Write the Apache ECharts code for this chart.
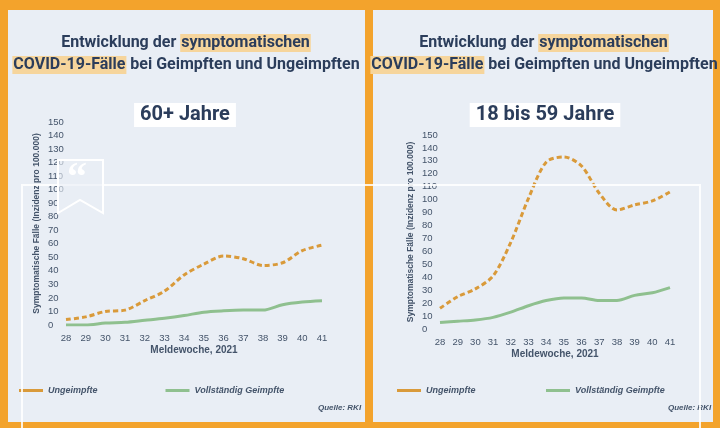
<!DOCTYPE html>
<html>
<head>
<meta charset="utf-8">
<script src="https://cdn.jsdelivr.net/npm/echarts@6/dist/echarts.min.js"></script>
<style>
  html, body { margin: 0; height: 100%; background: #f3a32c; }
  #chart { width: 720px; height: 428px; }
</style>
</head>
<body>
<div id="chart"></div>
<script>
var weeks = ['28','29','30','31','32','33','34','35','36','37','38','39','40','41'];
// 60+ Jahre
var oldUnvacc = [4, 6, 10, 11, 18, 25, 37, 45, 51, 49, 44, 46, 55, 59];
var oldVacc   = [0, 0, 1.5, 2, 3.5, 5, 7, 9.5, 10.5, 11, 11, 15, 17, 18];
// 18 bis 59 Jahre
var youngUnvacc = [16, 25, 31, 41, 67, 101, 129, 133, 126, 105, 92, 96, 99, 106];
var youngVacc   = [5, 6, 7, 9, 13, 18, 22, 24, 24, 22, 22, 26, 28, 32];

var navy = '#2b3d5b';
var txt = '#44546a';
var orange = '#d99a3a';
var green = '#8fc08f';

function titleText(cx) {
  return {
    type: 'text', z: 10,
    style: {
      x: cx, y: 32,
      text: 'Entwicklung der {h|symptomatischen}\n{h|COVID-19-Fälle} bei Geimpften und Ungeimpften',
      font: 'bold 16px Roboto, sans-serif', fill: navy, align: 'center',
      lineHeight: 22,
      rich: { h: { backgroundColor: '#f6d59c', fontWeight: 'bold', fontSize: 16, fontFamily: 'Roboto', fill: navy, padding: [1, 1] } }
    }
  };
}
function subTitle(cx, label) {
  return {
    type: 'text', z: 10,
    style: { x: cx, y: 103, align: 'center', text: label, font: 'bold 20px Roboto, sans-serif', fill: navy, backgroundColor: '#ffffff', padding: [2, 6] }
  };
}

var xAxisBase = {
  type: 'category', data: weeks, boundaryGap: false,
  name: 'Meldewoche, 2021', nameLocation: 'middle', nameGap: 20,
  nameTextStyle: { color: txt, fontSize: 10, fontWeight: 'bold' },
  axisLine: { show: false }, axisTick: { show: false },
  axisLabel: { color: txt, fontSize: 9.5 }
};
var yAxisBase = {
  type: 'value', min: 0, max: 150, interval: 10,
  name: 'Symptomatische Fälle (Inzidenz pro 100.000)', nameLocation: 'middle', nameGap: 25,
  nameTextStyle: { color: txt, fontSize: 8.5, fontWeight: 'bold' },
  splitLine: { show: false }, axisLine: { show: false }, axisTick: { show: false },
  axisLabel: { color: txt, fontSize: 9.5, align: 'left', margin: 18 }
};
function line(name, data, idx, dashed, color) {
  return {
    name: name, type: 'line', data: data, xAxisIndex: idx, yAxisIndex: idx,
    smooth: 0.3, symbol: 'none',
    lineStyle: { color: color, width: 3, type: dashed ? [5, 3] : 'solid' },
    itemStyle: { color: color }
  };
}
function legend(left, names) {
  return { left: left, top: 381, itemGap: 68, itemWidth: 24, itemHeight: 3, icon: 'rect',
    textStyle: { color: txt, fontSize: 9, fontStyle: 'italic', fontWeight: 'bold' },
    data: names };
}

var chart = echarts.init(document.getElementById('chart'));
chart.setOption({
  animation: false,
  graphic: [
    { type: 'rect', shape: { x: 8, y: 10, width: 357, height: 412 }, style: { fill: '#e9eef5' } },
    { type: 'rect', shape: { x: 373, y: 10, width: 340, height: 412 }, style: { fill: '#e9eef5' } },
    titleText(186), titleText(544),
    subTitle(185, '60+ Jahre'), subTitle(545, '18 bis 59 Jahre'),
    { type: 'rect', z: 20, shape: { x: 22, y: 185, width: 678, height: 260 }, style: { fill: 'none', stroke: 'rgba(255,255,255,0.85)', lineWidth: 2 } },
    { type: 'polygon', z: 21, shape: { points: [[58,160],[103,160],[103,213],[80,200],[58,213]] }, style: { fill: 'rgba(233,238,245,0.6)', stroke: '#ffffff', lineWidth: 2 } },
    { type: 'text', z: 22, left: 67, top: 160, style: { text: '\u201C', font: 'bold 40px serif', fill: '#ffffff' } },
    { type: 'text', left: 318, top: 404, style: { text: 'Quelle: RKI', font: 'bold italic 8px sans-serif', fill: txt } },
    { type: 'text', left: 668, top: 404, style: { text: 'Quelle: RKI', font: 'bold italic 8px sans-serif', fill: txt } }
  ],
  grid: [
    { left: 66, right: 398, top: 122, bottom: 103 },
    { left: 440, right: 50, top: 135, bottom: 99 }
  ],
  xAxis: [Object.assign({ gridIndex: 0 }, xAxisBase), Object.assign({ gridIndex: 1 }, xAxisBase)],
  yAxis: [Object.assign({ gridIndex: 0 }, yAxisBase), Object.assign({ gridIndex: 1 }, yAxisBase)],
  legend: [
    legend(14, ['Ungeimpfte', 'Vollständig Geimpfte']),
    legend(392, ['Ungeimpfte ', 'Vollständig Geimpfte '])
  ],
  series: [
    line('Ungeimpfte', oldUnvacc, 0, true, orange),
    line('Vollständig Geimpfte', oldVacc, 0, false, green),
    line('Ungeimpfte ', youngUnvacc, 1, true, orange),
    line('Vollständig Geimpfte ', youngVacc, 1, false, green)
  ]
});
</script>
</body>
</html>
